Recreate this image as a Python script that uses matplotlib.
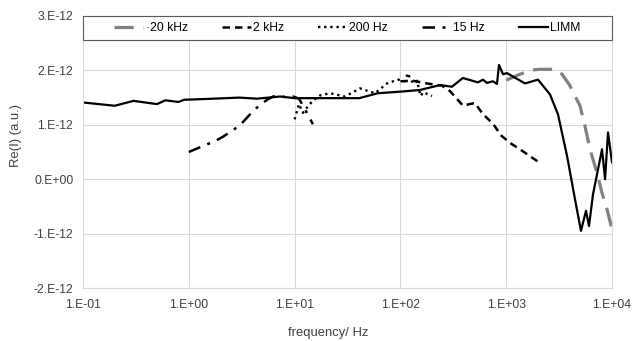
import matplotlib
matplotlib.use("Agg")
import matplotlib.pyplot as plt
import numpy as np
from matplotlib.patches import Rectangle
from matplotlib.ticker import FuncFormatter, FixedLocator, NullLocator

plt.rcParams['font.family'] = ['Liberation Sans', 'DejaVu Sans']
plt.rcParams['font.size'] = 8.7

# Re(I) in units of 1e-12, frequency in Hz
f_20k = [1000, 1350, 1790, 2090, 2890, 3370, 4000, 4980, 5550, 6190, 7210, 8040, 8970, 10000]
re_20k = [1.82, 1.93, 2.01, 2.02, 2.02, 1.93, 1.72, 1.35, 0.98, 0.55, 0.12, -0.25, -0.55, -0.92]

f_2k = [100, 131, 178, 247, 294, 391, 450, 507, 600, 750, 900, 1100, 1350, 1600, 2040]
re_2k = [1.80, 1.81, 1.76, 1.72, 1.62, 1.35, 1.38, 1.40, 1.20, 1.02, 0.80, 0.66, 0.55, 0.45, 0.31]

f_200 = [10, 11, 12, 13.5, 15, 17.4, 21.6, 30, 41.5, 57.5, 74.7, 95, 110, 118, 125,
         135, 144, 155, 165, 182, 199]
re_200 = [1.10, 1.38, 1.22, 1.35, 1.45, 1.54, 1.58, 1.52, 1.67, 1.58, 1.76, 1.83, 1.80,
          1.95, 1.82, 1.76, 1.81, 1.53, 1.60, 1.56, 1.53]

f_15 = [1, 1.36, 1.77, 2.1, 2.7, 3.25, 3.95, 4.6, 5.5, 6.25, 7.3, 8.5, 9.7, 11, 12.5, 14.9]
re_15 = [0.50, 0.61, 0.70, 0.78, 0.92, 1.05, 1.23, 1.35, 1.46, 1.52, 1.53, 1.50, 1.52,
         1.48, 1.29, 1.01]

f_limm = [0.1, 0.2, 0.3, 0.5, 0.6, 0.8, 0.9, 1.7, 3, 4.4, 7.3, 10, 20, 41, 61, 101, 153,
          237, 307, 389, 541, 603, 658, 750, 818, 855, 933, 1018, 1506, 1997, 2592, 3088,
          3757, 4470, 5090, 5680, 6065, 6610, 8050, 8600, 9170, 10000]
re_limm = [1.41, 1.35, 1.44, 1.38, 1.45, 1.42, 1.46, 1.48, 1.50, 1.48, 1.52, 1.49, 1.49,
           1.49, 1.58, 1.61, 1.64, 1.73, 1.70, 1.86, 1.78, 1.83, 1.77, 1.80, 1.75, 2.10,
           1.93, 1.95, 1.76, 1.83, 1.56, 1.19, 0.43, -0.37, -0.95, -0.58, -0.86, -0.28,
           0.55, 0.0, 0.86, 0.31]

x_ticks = [0.1, 1, 10, 100, 1000, 10000]
y_ticks = [-2, -1, 0, 1, 2, 3]

fig = plt.figure(figsize=(6.34, 3.41), dpi=100)
ax = fig.add_axes([0.1309, 0.1554, 0.8344, 0.7977])

scale = 1e-12
ax.plot(f_20k, np.array(re_20k) * scale, color='#808080', lw=2.3,
        dashes=(6, 3), label='·20 kHz')
ax.plot(f_2k, np.array(re_2k) * scale, color='black', lw=1.8,
        dashes=(3, 2), label='2 kHz')
ax.plot(f_200, np.array(re_200) * scale, color='black', lw=1.7,
        dashes=(1, 1.6), label='200 Hz')
ax.plot(f_15, np.array(re_15) * scale, color='black', lw=1.8,
        dashes=(5, 3, 1.2, 3), label='15 Hz')
ax.plot(f_limm, np.array(re_limm) * scale, color='black', lw=1.6, label='LIMM')

ax.set_xscale('log')
ax.set_xlim(0.1, 10000)
ax.set_ylim(-2e-12, 3e-12)
ax.xaxis.set_major_locator(FixedLocator(x_ticks))
ax.xaxis.set_minor_locator(NullLocator())
ax.yaxis.set_major_locator(FixedLocator([v * scale for v in y_ticks]))
ax.xaxis.set_major_formatter(FuncFormatter(
    lambda v, p: "1.E%+03d" % int(round(np.log10(v)))))
ax.yaxis.set_major_formatter(FuncFormatter(
    lambda v, p: "0.E+00" if abs(v) < 1e-15 else "%d.E-12" % int(round(v / scale))))

txt = '#404040'
ax.tick_params(axis='both', length=0, colors=txt, labelsize=8.7)
ax.tick_params(axis='x', pad=8)
ax.tick_params(axis='y', pad=7)
ax.grid(True, color='#d9d9d9', lw=0.8)
ax.set_axisbelow(True)
for s in ax.spines.values():
    s.set_color('#d9d9d9')
    s.set_linewidth(0.8)

ax.set_ylabel('Re(I) (a.u.)', color=txt, fontsize=9.4)
ax.yaxis.set_label_coords(-0.116, 0.559)
ax.set_xlabel('frequency/ Hz', color=txt, fontsize=9.4)
ax.xaxis.set_label_coords(0.463, -0.143)

# legend band across the top of the plot area
band = Rectangle((0, 0.912), 1, 0.088, transform=ax.transAxes, facecolor='white',
                 edgecolor='#595959', lw=0.8, zorder=5, clip_on=False)
ax.add_patch(band)
leg = ax.legend(loc='center', bbox_to_anchor=(0.5, 0.956), ncol=5, frameon=False,
                handlelength=2.4, handletextpad=0.2, columnspacing=2.8,
                fontsize=8.7, borderaxespad=0)
leg.set_zorder(6)

fig.savefig('out.png', dpi=100)
